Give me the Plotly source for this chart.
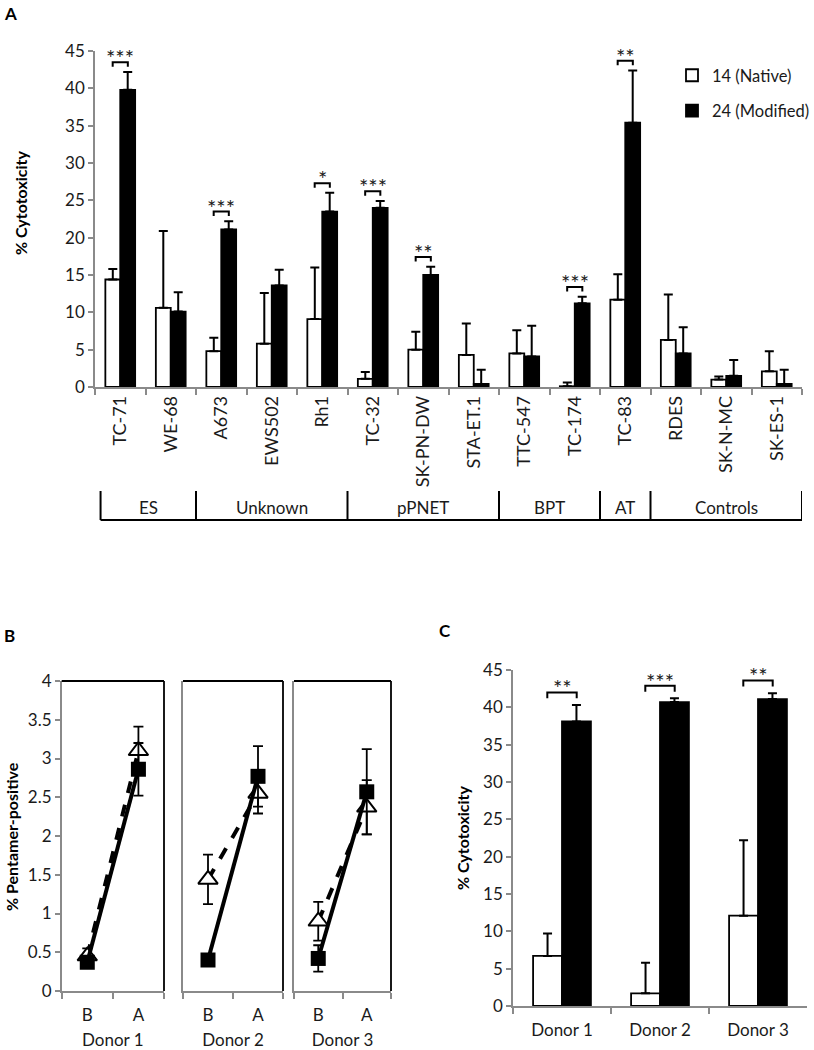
import plotly.graph_objects as go

# ---------------- Panel A data ----------------
cell_lines = ["TC-71", "WE-68", "A673", "EWS502", "Rh1", "TC-32", "SK-PN-DW",
              "STA-ET.1", "TTC-547", "TC-174", "TC-83", "RDES", "SK-N-MC", "SK-ES-1"]
native_A = [14.4, 10.6, 4.8, 5.8, 9.1, 1.1, 5.0, 4.3, 4.5, 0.1, 11.7, 6.3, 1.0, 2.1]
native_A_err = [1.4, 10.3, 1.8, 6.8, 6.9, 0.9, 2.4, 4.2, 3.1, 0.5, 3.4, 6.1, 0.4, 2.7]
modified_A = [39.8, 10.1, 21.1, 13.6, 23.5, 24.0, 15.0, 0.4, 4.1, 11.2, 35.4, 4.5, 1.5, 0.4]
modified_A_err = [2.4, 2.6, 1.1, 2.1, 2.5, 0.9, 1.1, 1.9, 4.1, 0.9, 7.0, 3.5, 2.1, 1.9]
sig_A = ["***", "", "***", "", "*", "***", "**", "", "", "***", "**", "", "", ""]
groups = ["ES", "Unknown", "pPNET", "BPT", "AT", "Controls"]
group_sizes = [2, 3, 3, 2, 1, 3]

# ---------------- Panel B data ----------------
donors = ["Donor 1", "Donor 2", "Donor 3"]
timepoints = ["B", "A"]
tri_vals = [[0.45, 3.10], [1.44, 2.55], [0.90, 2.37]]
tri_err = [[0.10, 0.31], [0.32, 0.26], [0.25, 0.35]]
sq_vals = [[0.37, 2.86], [0.40, 2.77], [0.42, 2.57]]
sq_err = [[0.05, 0.34], [0.05, 0.39], [0.17, 0.55]]

# ---------------- Panel C data ----------------
native_C = [6.7, 1.7, 12.1]
native_C_err = [3.0, 4.1, 10.1]
modified_C = [38.1, 40.7, 41.1]
modified_C_err = [2.2, 0.5, 0.8]
sig_C = ["**", "***", "**"]

W, H = 814, 1050
FONT = "Lato"
GREY = "#8a8a8a"
TXT = "#1a1a1a"


def px(x):
    return x / W


def py(y):
    return 1 - y / H


fig = go.Figure()

# ---- Panel A bars ----
fig.add_trace(go.Bar(
    x=cell_lines, y=native_A, name="14 (Native)", legendgroup="n",
    marker=dict(color="white", line=dict(color="black", width=1.8)),
    error_y=dict(type="data", symmetric=False, array=native_A_err,
                 arrayminus=[0] * len(native_A), color="black", thickness=2, width=4.5),
    xaxis="x", yaxis="y"))
fig.add_trace(go.Bar(
    x=cell_lines, y=modified_A, name="24 (Modified)", legendgroup="m",
    marker=dict(color="black", line=dict(color="black", width=1.8)),
    error_y=dict(type="data", symmetric=False, array=modified_A_err,
                 arrayminus=[0] * len(modified_A), color="black", thickness=2, width=4.5),
    xaxis="x", yaxis="y"))

# ---- Panel B lines ----
for d in range(3):
    ax = str(d + 2)
    fig.add_trace(go.Scatter(
        x=timepoints, y=tri_vals[d], mode="lines+markers", showlegend=False,
        line=dict(color="black", width=4, dash="dash"),
        marker=dict(symbol="triangle-up", size=17, color="white",
                    line=dict(color="black", width=2)),
        error_y=dict(type="data", array=tri_err[d], color="black", thickness=1.8, width=5),
        xaxis="x" + ax, yaxis="y" + ax))
    fig.add_trace(go.Scatter(
        x=timepoints, y=sq_vals[d], mode="lines+markers", showlegend=False,
        line=dict(color="black", width=4),
        marker=dict(symbol="square", size=15, color="black"),
        error_y=dict(type="data", array=sq_err[d], color="black", thickness=1.8, width=5),
        xaxis="x" + ax, yaxis="y" + ax))

# ---- Panel C bars ----
fig.add_trace(go.Bar(
    x=donors, y=native_C, name="14 (Native)", showlegend=False,
    marker=dict(color="white", line=dict(color="black", width=1.8)),
    error_y=dict(type="data", symmetric=False, array=native_C_err,
                 arrayminus=[0] * 3, color="black", thickness=2, width=4.5),
    xaxis="x5", yaxis="y5"))
fig.add_trace(go.Bar(
    x=donors, y=modified_C, name="24 (Modified)", showlegend=False,
    marker=dict(color="black", line=dict(color="black", width=1.8)),
    error_y=dict(type="data", symmetric=False, array=modified_C_err,
                 arrayminus=[0] * 3, color="black", thickness=2, width=4.5),
    xaxis="x5", yaxis="y5"))

shapes = []
annotations = []


def add_sig(xref, yref, i, top, label, lo, hi):
    x0, x1 = i - 0.15, i + 0.15
    shapes.append(dict(type="path", xref=xref, yref=yref,
                       path=f"M {x0} {top + lo} L {x0} {top + hi} L {x1} {top + hi} L {x1} {top + lo}",
                       line=dict(color="black", width=2)))
    annotations.append(dict(x=i, y=top + hi, xref=xref, yref=yref, text=label,
                            showarrow=False, yanchor="bottom", yshift=-11,
                            font=dict(family=FONT, size=22, color=TXT)))


for i, s in enumerate(sig_A):
    if s:
        top = max(native_A[i] + native_A_err[i], modified_A[i] + modified_A_err[i])
        add_sig("x", "y", i, top, s, 0.7, 1.3)

for i, s in enumerate(sig_C):
    top = max(native_C[i] + native_C_err[i], modified_C[i] + modified_C_err[i])
    add_sig("x5", "y5", i, top, s, 0.9, 1.7)

# ---- group row under panel A ----
y_top, y_bot = py(491), py(520)
bounds = [-0.39]
acc = -0.5
for g in group_sizes:
    acc += g
    bounds.append(acc)
for b in bounds:
    shapes.append(dict(type="line", xref="x", yref="paper", x0=b, x1=b, y0=y_bot, y1=y_top,
                       line=dict(color="black", width=2)))
shapes.append(dict(type="line", xref="x", yref="paper", x0=bounds[0], x1=bounds[-1],
                   y0=y_bot, y1=y_bot, line=dict(color="black", width=2)))
for k, g in enumerate(groups):
    annotations.append(dict(x=(bounds[k] + bounds[k + 1]) / 2, y=py(507), xref="x", yref="paper",
                            text=g, showarrow=False, yanchor="middle",
                            font=dict(family=FONT, size=17, color=TXT)))

# ---- panel B top/right black borders ----
for d in range(3):
    ax = str(d + 2)
    shapes.append(dict(type="line", xref=f"x{ax} domain", yref=f"y{ax} domain",
                       x0=0, x1=1, y0=1, y1=1, line=dict(color="black", width=1.8)))
    shapes.append(dict(type="line", xref=f"x{ax} domain", yref=f"y{ax} domain",
                       x0=1, x1=1, y0=0, y1=1, line=dict(color="black", width=1.8)))

# ---- panel letters and y titles ----
for letter, x, y in [("A", 2, 13), ("B", 2, 635), ("C", 437, 630)]:
    annotations.append(dict(x=px(x), y=py(y), xref="paper", yref="paper", text=f"<b>{letter}</b>",
                            showarrow=False, xanchor="left", yanchor="middle",
                            font=dict(family=FONT, size=17, color="black")))
for text, x, y in [("% Cytotoxicity", 20, 203), ("% Pentamer-positive", 11, 837),
                   ("% Cytotoxicity", 462, 838)]:
    annotations.append(dict(x=px(x), y=py(y), xref="paper", yref="paper", text=f"<b>{text}</b>",
                            showarrow=False, textangle=-90, xanchor="center", yanchor="middle",
                            font=dict(family=FONT, size=16, color="black")))

axis_common = dict(showgrid=False, zeroline=False, showline=True, linecolor=GREY, linewidth=1.5,
                   ticks="outside", tickcolor=GREY, tickwidth=1.5,
                   tickfont=dict(family=FONT, size=17, color=TXT))

layout = dict(
    width=W, height=H, margin=dict(l=0, r=0, t=0, b=0, pad=0, autoexpand=False),
    paper_bgcolor="white", plot_bgcolor="white",
    font=dict(family=FONT, color=TXT),
    barmode="group", bargap=0.41, bargroupgap=0,
    showlegend=True,
    legend=dict(x=px(672), y=py(58), xanchor="left", yanchor="top",
                font=dict(family=FONT, size=16.5, color=TXT), bgcolor="rgba(0,0,0,0)",
                tracegroupgap=11, itemwidth=30),
    shapes=shapes, annotations=annotations,
    xaxis=dict(axis_common, domain=[px(95), px(802)], type="category", tickson="boundaries",
               ticklen=6, tickangle=-90, range=[-0.5, 13.5], anchor="y",
               tickfont=dict(family=FONT, size=18, color=TXT)),
    yaxis=dict(axis_common, domain=[py(387), py(51)], range=[0, 45], dtick=5, ticklen=5,
               anchor="x"),
    xaxis5=dict(axis_common, domain=[px(513), px(807)], type="category", tickson="boundaries",
                ticklen=6, range=[-0.5, 2.5], anchor="y5", ticklabelstandoff=8),
    yaxis5=dict(axis_common, domain=[py(1006), py(670)], range=[0, 45], dtick=5, ticklen=5,
                anchor="x5"),
)

b_domains = [(61.7, 164), (183, 283), (294, 391)]
for d in range(3):
    ax = str(d + 2)
    layout["xaxis" + ax] = dict(axis_common, domain=[px(b_domains[d][0]), px(b_domains[d][1])],
                                type="category", tickson="boundaries", ticklen=6,
                                range=[-0.5, 1.5], anchor="y" + ax, ticklabelstandoff=8,
                                title=dict(text=donors[d], standoff=14,
                                           font=dict(family=FONT, size=17, color=TXT)))
    layout["yaxis" + ax] = dict(axis_common, domain=[py(991), py(681)], range=[0, 4], dtick=0.5,
                                ticklen=5 if d == 0 else 0, showticklabels=(d == 0),
                                ticks="outside" if d == 0 else "", anchor="x" + ax)

fig.update_layout(**layout)
fig.write_html("out.html", config={"displayModeBar": False},
               post_script="document.body.style.margin='0';")
